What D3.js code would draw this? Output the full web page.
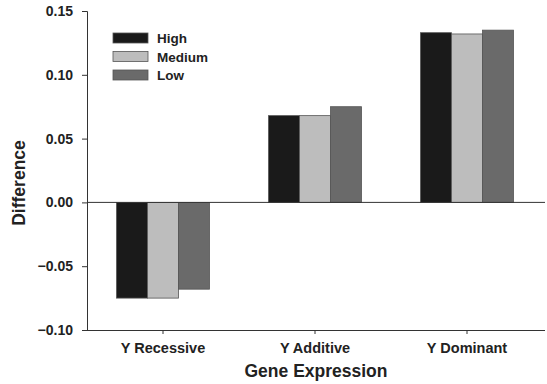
<!DOCTYPE html>
<html>
<head>
<meta charset="utf-8">
<style>
  body { margin: 0; background: #fff; }
  text { font-family: Arial, "Liberation Sans", sans-serif; font-weight: bold; fill: #222; }
</style>
</head>
<body>
<svg width="547" height="384"></svg>
<script src="https://d3js.org/d3.v7.min.js"></script>
<script>
// chart values
var categories = ["Y Recessive", "Y Additive", "Y Dominant"];
var series = ["High", "Medium", "Low"];
var high = [-0.075, 0.068, 0.133];
var medium = [-0.075, 0.068, 0.132];
var low = [-0.068, 0.075, 0.135];
var yTicks = [-0.10, -0.05, 0.00, 0.05, 0.10, 0.15];
var colors = ["#1a1a1a", "#bdbdbd", "#6a6a6a"];

var values = [high, medium, low];

var svg = d3.select("svg");
var mLeft = 87, mRight = 543, mTop = 11, mBottom = 330;

var x = d3.scaleBand().domain(categories).range([mLeft, mRight]);
var xs = d3.scaleBand().domain(series).range([0, 93]);
var y = d3.scaleLinear().domain([-0.10, 0.15]).range([mBottom, mTop]);

// bars
series.forEach(function(s, i) {
  svg.append("g").selectAll("rect")
    .data(categories)
    .enter().append("rect")
    .attr("x", function(c) { return x(c) + x.bandwidth() / 2 - 46.5 + xs(s); })
    .attr("width", xs.bandwidth())
    .attr("y", function(c, j) { return y(Math.max(0, values[i][j])); })
    .attr("height", function(c, j) { return Math.abs(y(values[i][j]) - y(0)); })
    .attr("fill", colors[i])
    .attr("stroke", "#555")
    .attr("stroke-width", 0.8);
});

// zero line
svg.append("line")
  .attr("x1", mLeft).attr("x2", 545)
  .attr("y1", y(0)).attr("y2", y(0))
  .attr("stroke", "#333").attr("stroke-width", 1);

// y axis
var yAxis = svg.append("g")
  .attr("transform", "translate(" + mLeft + ",0)")
  .call(d3.axisLeft(y).tickValues(yTicks).tickSize(5).tickPadding(9).tickFormat(d3.format(".2f")));
yAxis.select(".domain").attr("stroke", "#333");
yAxis.selectAll("line").attr("stroke", "#333");
yAxis.selectAll("text").style("font-size", "14px").style("font-family", "Arial, 'Liberation Sans', sans-serif").attr("fill", "#222");

// x axis
var xAxis = svg.append("g")
  .attr("transform", "translate(0," + mBottom + ")")
  .call(d3.axisBottom(x).tickSize(4).tickPadding(9).tickSizeOuter(0));
xAxis.select(".domain").attr("d", "M" + mLeft + ",0.5H545").attr("stroke", "#333");
xAxis.selectAll("line").attr("stroke", "#333");
xAxis.selectAll("text").style("font-size", "14.5px").style("font-family", "Arial, 'Liberation Sans', sans-serif").attr("fill", "#222");

// axis titles
svg.append("text")
  .attr("x", 316).attr("y", 377)
  .attr("text-anchor", "middle")
  .style("font-size", "17.5px")
  .text("Gene Expression");

svg.append("text")
  .attr("transform", "translate(25,183) rotate(-90)")
  .attr("text-anchor", "middle")
  .style("font-size", "17.5px")
  .text("Difference");

// legend
var legend = svg.append("g").attr("transform", "translate(113,33)");
series.forEach(function(s, i) {
  var row = legend.append("g").attr("transform", "translate(0," + (i * 18.5) + ")");
  row.append("rect")
    .attr("width", 35).attr("height", 10)
    .attr("fill", colors[i]).attr("stroke", "#555").attr("stroke-width", 0.8);
  row.append("text")
    .attr("x", 44).attr("y", 10)
    .style("font-size", "13.5px")
    .text(s);
});
</script>
</body>
</html>
